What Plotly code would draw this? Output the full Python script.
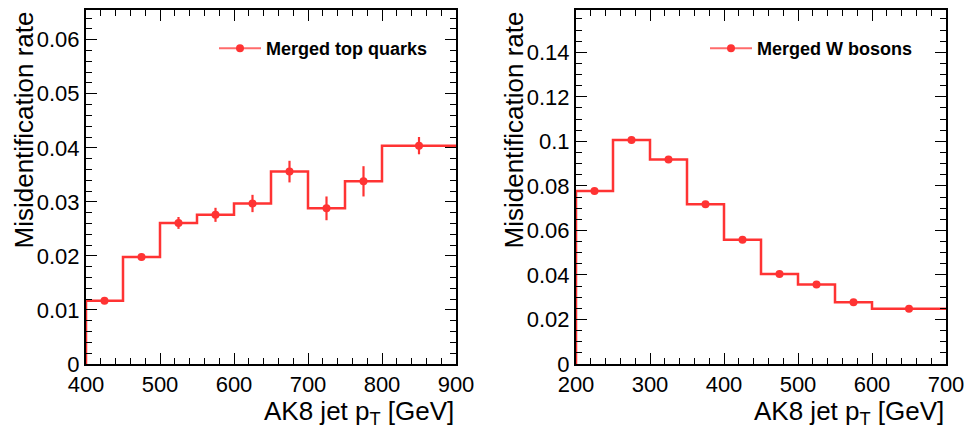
import plotly.graph_objects as go

# ---------------- data ----------------
top_edges = [400, 450, 500, 550, 600, 650, 700, 750, 800, 900]
top_rate = [0.0117, 0.0198, 0.0261, 0.0276, 0.0297, 0.0356, 0.0288, 0.0338, 0.0404]
top_err = [0.0003, 0.0006, 0.0011, 0.0013, 0.0016, 0.0020, 0.0022, 0.0028, 0.0016]

w_edges = [200, 250, 300, 350, 400, 450, 500, 550, 600, 700]
w_rate = [0.0777, 0.1006, 0.0919, 0.0718, 0.0558, 0.0404, 0.0357, 0.0277, 0.0248]
w_err = [0.0004, 0.0005, 0.0005, 0.0004, 0.0004, 0.0004, 0.0004, 0.0004, 0.0004]

top_yticks = [0, 0.01, 0.02, 0.03, 0.04, 0.05, 0.06]
top_yticktext = ["0", "0.01", "0.02", "0.03", "0.04", "0.05", "0.06"]
w_yticks = [0, 0.02, 0.04, 0.06, 0.08, 0.10, 0.12, 0.14]
w_yticktext = ["0", "0.02", "0.04", "0.06", "0.08", "0.1", "0.12", "0.14"]
top_xticks = [400, 500, 600, 700, 800, 900]
w_xticks = [200, 300, 400, 500, 600, 700]

top_label = "Merged top quarks"
w_label = "Merged W bosons"
x_title = "AK8 jet p<sub>T</sub> [GeV]"
y_title = "Misidentification rate"

RED = "#ff3333"
LEG_RED = "#ff6b6b"
FONT = "Liberation Sans, Arial, sans-serif"

fig = go.Figure()


def add_hist(edges, rate, err, xa, ya, label, legend):
    # step outline
    xs = [edges[0]] + list(edges)
    ys = [0] + list(rate) + [rate[-1]]
    fig.add_trace(go.Scatter(x=xs, y=ys, mode="lines", line=dict(color=RED, width=2.5, shape="hv"),
                             xaxis=xa, yaxis=ya, showlegend=False, hoverinfo="skip"))
    centers = [(edges[i] + edges[i + 1]) / 2 for i in range(len(rate))]
    fig.add_trace(go.Scatter(x=centers, y=rate, mode="markers",
                             marker=dict(color=RED, size=8),
                             error_y=dict(type="data", array=err, visible=True, color=RED, thickness=2.2, width=0),
                             xaxis=xa, yaxis=ya, showlegend=False))
    # legend entry
    fig.add_trace(go.Scatter(x=[None], y=[None], mode="lines+markers", name="<b>" + label + "</b>",
                             line=dict(color=LEG_RED, width=2), marker=dict(color=RED, size=8),
                             xaxis=xa, yaxis=ya, showlegend=True, legend=legend))


add_hist(top_edges, top_rate, top_err, "x", "y", top_label, "legend")
add_hist(w_edges, w_rate, w_err, "x2", "y2", w_label, "legend2")

common_axis = dict(showline=True, linecolor="black", linewidth=2, mirror="ticks",
                   ticks="inside", ticklen=11, tickwidth=1.3, tickcolor="black",
                   showgrid=False, zeroline=False, automargin=False,
                   tickfont=dict(family=FONT, size=22, color="black"))
minor_common = dict(ticks="inside", ticklen=6, tickcolor="black", tickwidth=1.2)

fig.update_layout(
    width=967, height=428,
    margin=dict(l=0, r=0, t=0, b=0, autoexpand=False),
    plot_bgcolor="white", paper_bgcolor="white",
    xaxis=dict(domain=[86 / 967, 456 / 967], range=[400, 900], anchor="y",
               tickvals=top_xticks, minor=dict(dtick=20, tick0=0, **minor_common),
               **common_axis),
    yaxis=dict(domain=[64 / 428, 418 / 428], range=[0, 0.0655], anchor="x",
               tickvals=top_yticks, ticktext=top_yticktext,
               minor=dict(dtick=0.002, tick0=0, **minor_common),
               **common_axis),
    xaxis2=dict(domain=[576 / 967, 946 / 967], range=[200, 700], anchor="y2",
                tickvals=w_xticks, minor=dict(dtick=20, tick0=0, **minor_common),
                **common_axis),
    yaxis2=dict(domain=[64 / 428, 418 / 428], range=[0, 0.159], anchor="x2",
                tickvals=w_yticks, ticktext=w_yticktext,
                minor=dict(dtick=0.005, tick0=0, **minor_common),
                **common_axis),
    legend=dict(x=214 / 967, y=1 - 30 / 428, xanchor="left", yanchor="top", itemwidth=42,
                bgcolor="rgba(0,0,0,0)", font=dict(family=FONT, size=18, color="black")),
    legend2=dict(x=705 / 967, y=1 - 30 / 428, xanchor="left", yanchor="top", itemwidth=42,
                 bgcolor="rgba(0,0,0,0)", font=dict(family=FONT, size=18, color="black")),
)

ann = []
for xr, ttl_x in [(456, 24), (946, 514)]:
    ann.append(dict(text=x_title, x=xr / 967, y=1 - 412 / 428, xref="paper", yref="paper",
                    xanchor="right", yanchor="middle", showarrow=False,
                    font=dict(family=FONT, size=26, color="black")))
    ann.append(dict(text=y_title, x=ttl_x / 967, y=1 - 10 / 428, xref="paper", yref="paper",
                    xanchor="center", yanchor="top", textangle=-90, showarrow=False,
                    font=dict(family=FONT, size=26, color="black")))
fig.update_layout(annotations=ann)

fig.write_html("out.html")
